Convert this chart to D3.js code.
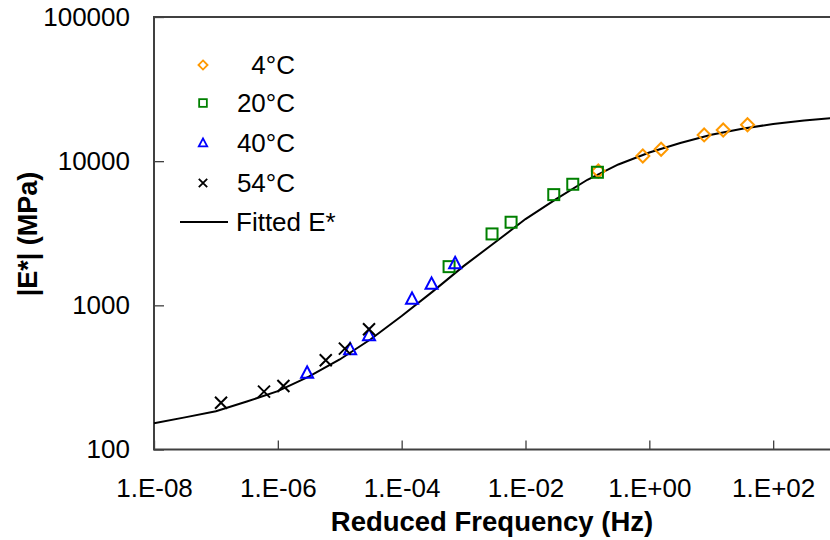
<!DOCTYPE html>
<html><head><meta charset="utf-8">
<script src="https://cdn.jsdelivr.net/npm/d3@7"></script>
<style>
body{margin:0;background:#fff;}
svg{display:block;font-family:"Liberation Sans",Arial,sans-serif;}
</style></head>
<body><svg id="c" width="830" height="540"></svg>
<script>
// ---- data ----
const xTickValues = [1e-8, 1e-6, 1e-4, 1e-2, 1e0, 1e2];
const xTickLabels = ["1.E-08","1.E-06","1.E-04","1.E-02","1.E+00","1.E+02"];
const yTickValues = [100, 1000, 10000, 100000];
const yTickLabels = ["100","1000","10000","100000"];

const freq4C  = [0.15, 0.785, 1.55, 7.68, 15.6, 38.5];
const mod4C   = [8550, 10860, 12090, 15200, 16450, 17900];
const freq20C = [5.83e-4, 2.88e-3, 5.85e-3, 0.0286, 0.058, 0.145];
const mod20C  = [1855, 3128, 3770, 5860, 6915, 8375];
const freq40C = [2.97e-6, 1.47e-5, 2.97e-5, 1.47e-4, 3.04e-4, 7.3e-4];
const mod40C  = [340, 494, 618, 1107, 1407, 1953];
const freq54C = [1.21e-7, 5.98e-7, 1.23e-6, 5.94e-6, 1.21e-5, 2.97e-5];
const mod54C  = [211, 252, 276, 416, 501, 683];

const fitFreq = [1e-8, 3.16e-8, 1e-7, 3.16e-7, 1e-6, 3.16e-6, 1e-5, 3.16e-5, 1e-4, 3.16e-4,
                 1e-3, 3.16e-3, 1e-2, 3.16e-2, 1e-1, 3.16e-1, 1e0, 3.16e0, 1e1, 3.16e1,
                 1e2, 3.16e2, 1e3, 1e4];
const fitMod  = [152, 167, 184, 215, 254, 320, 421, 582, 844, 1245,
                 1870, 2717, 3968, 5470, 7430, 9490, 11490, 13370, 15270, 16800,
                 18110, 19150, 20000, 21500];

const seriesNames = ["4°C", "20°C", "40°C", "54°C"];
const fitName = "Fitted E*";

// ---- drawing ----
const svg = d3.select("#c");
const L = 154, T = 17, B = 449.5, R = 897;
const x = d3.scaleLog().domain([1e-8, 1e4]).range([L, R]);
const y = d3.scaleLog().domain([100, 100000]).range([B, T]);

const axisCol = "#404040";
const font = "Liberation Sans, Arial, sans-serif";

// plot frame
svg.append("rect").attr("x", L).attr("y", T).attr("width", R - L).attr("height", B - T)
  .attr("fill", "none").attr("stroke", axisCol).attr("stroke-width", 2);

// x axis
const xAxis = d3.axisBottom(x).tickValues(xTickValues)
  .tickFormat((d, i) => xTickLabels[i]).tickSizeInner(-9).tickSizeOuter(0).tickPadding(29);
const gx = svg.append("g").attr("transform", `translate(0,${B})`).call(xAxis);
gx.select(".domain").remove();
gx.selectAll(".tick line").attr("stroke", axisCol).attr("stroke-width", 1.3);
gx.selectAll(".tick text").attr("font-size", 26).attr("font-family", font).attr("fill", "#000");

// y axis
const yAxis = d3.axisLeft(y).tickValues(yTickValues)
  .tickFormat((d, i) => yTickLabels[i]).tickSizeInner(-10).tickSizeOuter(0).tickPadding(24);
const gy = svg.append("g").attr("transform", `translate(${L},0)`).call(yAxis);
gy.select(".domain").remove();
gy.selectAll(".tick line").attr("stroke", axisCol).attr("stroke-width", 1.3);
gy.selectAll(".tick text").attr("font-size", 26).attr("font-family", font).attr("fill", "#000");

// axis titles
svg.append("text").attr("x", 492).attr("y", 531).attr("text-anchor", "middle")
  .attr("font-size", 27.5).attr("font-weight", "bold").attr("font-family", font)
  .text("Reduced Frequency (Hz)");
svg.append("text").attr("transform", "translate(37,234) rotate(-90)").attr("text-anchor", "middle")
  .attr("font-size", 27).attr("font-weight", "bold").attr("font-family", font)
  .text("|E*| (MPa)");

// fitted line
const fitData = fitFreq.map((f, i) => [f, fitMod[i]]);
svg.append("path").datum(fitData)
  .attr("d", d3.line().x(d => x(d[0])).y(d => y(d[1])))
  .attr("fill", "none").attr("stroke", "#000").attr("stroke-width", 2);

// marker helpers
function diamond(g, cx, cy, s, col, w) {
  g.append("path").attr("d", `M${cx},${cy - s}L${cx + s},${cy}L${cx},${cy + s}L${cx - s},${cy}Z`)
    .attr("fill", "none").attr("stroke", col).attr("stroke-width", w);
}
function square(g, cx, cy, s, col, w) {
  g.append("rect").attr("x", cx - s).attr("y", cy - s).attr("width", 2 * s).attr("height", 2 * s)
    .attr("fill", "none").attr("stroke", col).attr("stroke-width", w);
}
function triangle(g, cx, cy, s, col, w) {
  g.append("path").attr("d", `M${cx},${cy - s * 1.1}L${cx + s},${cy + s * 0.8}L${cx - s},${cy + s * 0.8}Z`)
    .attr("fill", "none").attr("stroke", col).attr("stroke-width", w);
}
function cross(g, cx, cy, s, col, w) {
  g.append("path").attr("d", `M${cx - s},${cy - s}L${cx + s},${cy + s}M${cx - s},${cy + s}L${cx + s},${cy - s}`)
    .attr("fill", "none").attr("stroke", col).attr("stroke-width", w);
}

const series = [
  {f: freq4C, m: mod4C, col: "#FF9900", draw: diamond, s: 6.5},
  {f: freq20C, m: mod20C, col: "#008000", draw: square, s: 5.5},
  {f: freq40C, m: mod40C, col: "#0000FF", draw: triangle, s: 6},
  {f: freq54C, m: mod54C, col: "#000000", draw: cross, s: 6}
];
const gm = svg.append("g");
series.forEach(sr => {
  sr.f.forEach((f, i) => sr.draw(gm, x(f), y(sr.m[i]), sr.s, sr.col, 2));
});

// legend
const lg = svg.append("g");
const rowY = [65, 103, 143, 183, 222];
series.forEach((sr, i) => {
  sr.draw(lg, 203, rowY[i], sr.s * 0.7, sr.col, 1.8);
  lg.append("text").attr("x", 295).attr("y", rowY[i] + 9).attr("text-anchor", "end")
    .attr("font-size", 26).attr("font-family", font).text(seriesNames[i]);
});
lg.append("line").attr("x1", 180).attr("x2", 228).attr("y1", rowY[4]).attr("y2", rowY[4])
  .attr("stroke", "#000").attr("stroke-width", 2);
lg.append("text").attr("x", 236).attr("y", rowY[4] + 9)
  .attr("font-size", 26).attr("font-family", font).text(fitName);
</script></body></html>
